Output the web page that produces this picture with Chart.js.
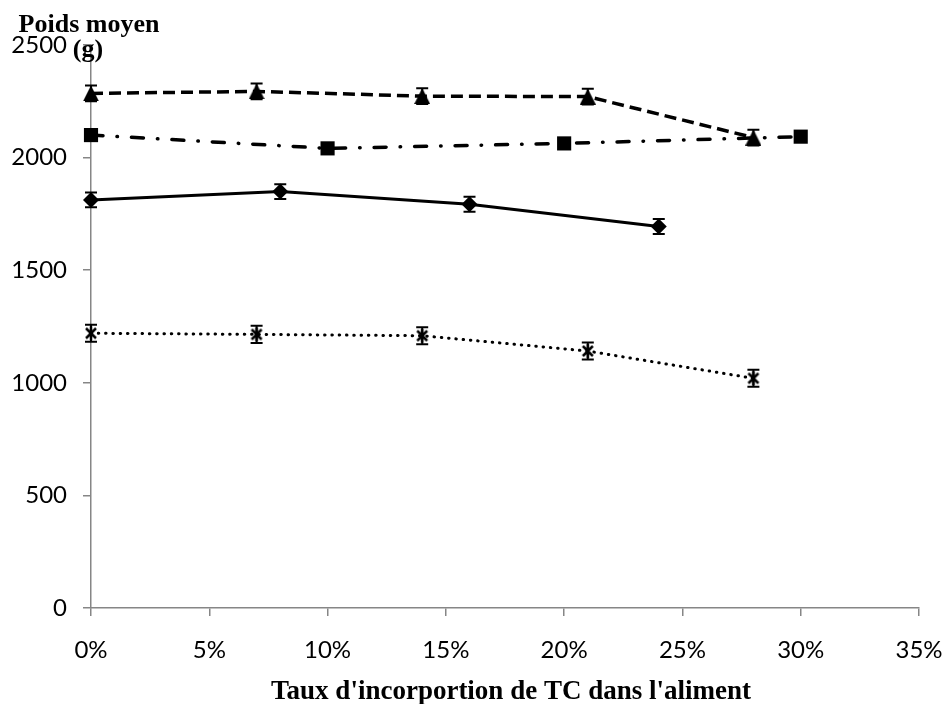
<!DOCTYPE html>
<html>
<head>
<meta charset="utf-8">
<script src="https://cdn.jsdelivr.net/npm/chart.js@4/dist/chart.umd.min.js"></script>
<style>
  html, body { margin: 0; padding: 0; background: #fff; }
  canvas { display: block; }
</style>
</head>
<body>
<canvas id="c" width="947" height="704"></canvas>
<script>
// Incorporation rates (% of TC in the feed) for each series
const triangleX = [0, 7, 14, 21, 28];
const squareX   = [0, 10, 20, 30];
const diamondX  = [0, 8, 16, 24];
const starX     = [0, 7, 14, 21, 28];

// Mean weights (g)
const triangleY = [2285, 2294, 2273, 2271, 2089];
const squareY   = [2100, 2041, 2063, 2093];
const diamondY  = [1812, 1849, 1793, 1694];
const starY     = [1220, 1215, 1209, 1141, 1020];

// Standard errors (g)
const triangleErr = [35, 35, 35, 35, 35];
const diamondErr  = [33, 33, 33, 33, 33];
const starErr     = [38, 38, 38, 38, 38];

// Axis ticks
const xTicks = [0, 5, 10, 15, 20, 25, 30, 35];
const yTicks = [0, 500, 1000, 1500, 2000, 2500];

const yTitleLines = ['Poids moyen', '(g)'];
const xTitle = "Taux d'incorportion de TC dans l'aliment";

function pts(xs, ys) { return xs.map((x, i) => ({ x: x, y: ys[i] })); }

// Marker images
function triangleMarker(w, h) {
  const c = document.createElement('canvas');
  c.width = w; c.height = h;
  const g = c.getContext('2d');
  g.fillStyle = '#000';
  g.beginPath();
  g.moveTo(w / 2, 0);
  g.lineTo(w, h);
  g.lineTo(0, h);
  g.closePath();
  g.fill();
  return c;
}
function starMarker(s) {
  const c = document.createElement('canvas');
  c.width = s; c.height = s;
  const g = c.getContext('2d');
  g.strokeStyle = '#000';
  g.lineWidth = 2.5;
  g.beginPath();
  g.moveTo(3, 3); g.lineTo(s - 3, s - 3);
  g.moveTo(s - 3, 3); g.lineTo(3, s - 3);
  g.moveTo(s / 2, 1); g.lineTo(s / 2, s - 1);
  g.stroke();
  return c;
}

// Vertical error bars with caps
const errorBars = {
  id: 'errorBars',
  afterDatasetsDraw(chart) {
    const ctx = chart.ctx;
    const xs = chart.scales.x, ys = chart.scales.y;
    ctx.save();
    ctx.strokeStyle = '#000';
    ctx.lineWidth = 2;
    chart.data.datasets.forEach(ds => {
      if (!ds.errors) return;
      ds.data.forEach((p, j) => {
        const e = ds.errors[j];
        const x = xs.getPixelForValue(p.x);
        const yt = ys.getPixelForValue(p.y + e);
        const yb = ys.getPixelForValue(p.y - e);
        ctx.beginPath();
        ctx.moveTo(x, yt); ctx.lineTo(x, yb);
        ctx.moveTo(x - 6, yt); ctx.lineTo(x + 6, yt);
        ctx.moveTo(x - 6, yb); ctx.lineTo(x + 6, yb);
        ctx.stroke();
      });
    });
    ctx.restore();
  }
};

// Axis titles
const axisTitles = {
  id: 'axisTitles',
  afterDraw(chart) {
    const ctx = chart.ctx;
    ctx.save();
    ctx.fillStyle = '#000';
    ctx.textAlign = 'center';
    ctx.textBaseline = 'alphabetic';
    ctx.font = 'bold 26px "Liberation Serif", "Times New Roman", serif';
    ctx.fillText(yTitleLines[0], 89, 32);
    ctx.fillText(yTitleLines[1], 88, 57);
    ctx.font = 'bold 27px "Liberation Serif", "Times New Roman", serif';
    ctx.fillText(xTitle, 511, 699);
    ctx.restore();
  }
};

const axisGrey = '#868686';

new Chart(document.getElementById('c'), {
  type: 'line',
  data: {
    datasets: [
      {
        data: pts(triangleX, triangleY), errors: triangleErr, clip: false,
        borderColor: '#000', borderWidth: 3.5, borderDash: [12, 6],
        pointStyle: triangleMarker(16, 16), pointRadius: 8,
        backgroundColor: '#000', tension: 0
      },
      {
        data: pts(squareX, squareY), clip: false,
        borderColor: '#000', borderWidth: 3.5, borderDash: [12, 14, 0.5, 14],
        borderCapStyle: 'round',
        pointStyle: 'rect', pointRadius: 10,
        pointBackgroundColor: '#000', pointBorderColor: '#000', pointBorderWidth: 0,
        tension: 0
      },
      {
        data: pts(diamondX, diamondY), errors: diamondErr, clip: false,
        borderColor: '#000', borderWidth: 3,
        pointStyle: 'rectRot', pointRadius: 8,
        pointBackgroundColor: '#000', pointBorderColor: '#000', pointBorderWidth: 0,
        tension: 0
      },
      {
        data: pts(starX, starY), errors: starErr, clip: false,
        borderColor: '#000', borderWidth: 3, borderDash: [0.5, 6.8],
        borderCapStyle: 'round',
        pointStyle: starMarker(16), pointRadius: 8,
        tension: 0
      }
    ]
  },
  options: {
    responsive: false,
    animation: false,
    devicePixelRatio: 1,
    layout: { padding: { top: 45, right: 28, left: 0, bottom: 0 } },
    plugins: { legend: { display: false }, tooltip: { enabled: false } },
    scales: {
      x: {
        type: 'linear',
        min: xTicks[0], max: xTicks[xTicks.length - 1],
        afterBuildTicks(scale) { scale.ticks = xTicks.map(v => ({ value: v })); },
        afterFit(scale) { scale.height = 96; scale.paddingLeft = 0; scale.paddingRight = 0; },
        border: { color: axisGrey, width: 1.5 },
        grid: { drawOnChartArea: false, drawTicks: true, tickLength: 8, color: axisGrey, lineWidth: 1.5 },
        ticks: {
          padding: 20, color: '#000',
          font: { family: 'Lato', size: 24 },
          callback: v => v + '%'
        }
      },
      y: {
        min: yTicks[0], max: yTicks[yTicks.length - 1],
        afterBuildTicks(scale) { scale.ticks = yTicks.map(v => ({ value: v })); },
        afterFit(scale) { scale.width = 91; scale.paddingTop = 0; scale.paddingBottom = 0; },
        border: { color: axisGrey, width: 1.5 },
        grid: { drawOnChartArea: false, drawTicks: true, tickLength: 8, color: axisGrey, lineWidth: 1.5 },
        ticks: {
          padding: 16, color: '#000',
          font: { family: 'Lato', size: 24 },
          callback: v => String(v)
        }
      }
    }
  },
  plugins: [errorBars, axisTitles]
});
</script>
</body>
</html>
